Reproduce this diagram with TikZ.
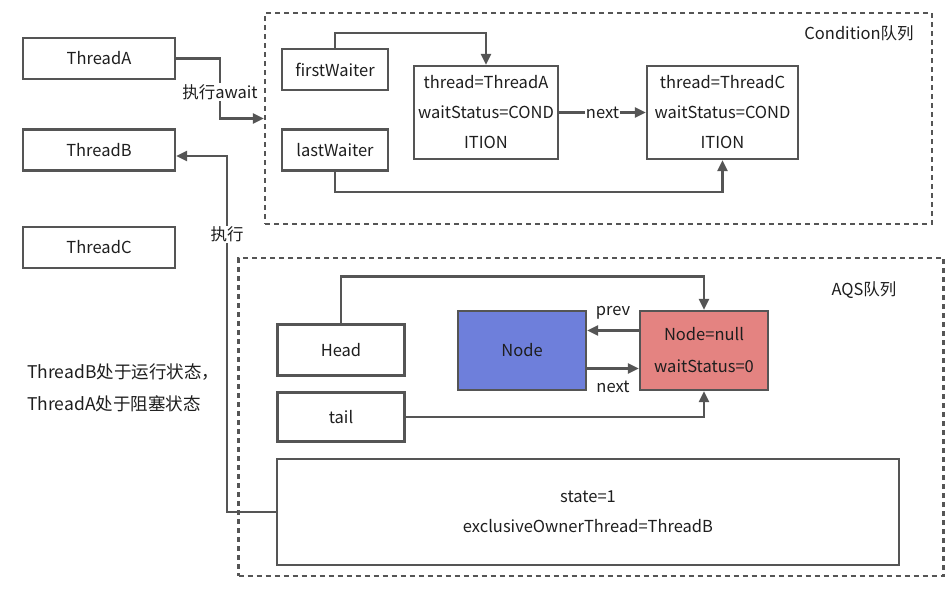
\documentclass[tikz,border=0pt]{standalone}
\usepackage{fontspec}
\setmainfont{Noto Sans CJK SC}
\usetikzlibrary{arrows.meta,calc}
\definecolor{ln}{RGB}{85,85,85}
\definecolor{bluef}{RGB}{110,127,219}
\definecolor{redf}{RGB}{228,131,129}
\definecolor{tx}{RGB}{30,30,30}
\begin{document}
\begin{tikzpicture}[x=1pt,y=-1pt,
 box/.style={draw=ln, line width=2.2pt, rectangle, inner sep=0pt, text=tx, font=\fontsize{16.5}{30}\selectfont, align=center},
 conn/.style={draw=ln, line width=2.2pt},
 arr/.style={conn, -{Triangle[length=11pt,width=10pt]}},
 dbox/.style={draw=ln, line width=2.2pt, dash pattern=on 5pt off 4pt, rectangle, inner sep=0pt},
 lbl/.style={font=\fontsize{16.5}{18}\selectfont, text=tx, inner sep=1pt, fill=white},
 txt/.style={font=\fontsize{16.5}{18}\selectfont, text=tx, inner sep=0pt}
]
\useasboundingbox (0,0) rectangle (947,592);
% left threads
\node[box, minimum width=152pt, minimum height=41pt] (ta) at (99,58.5) {ThreadA};
\node[box, minimum width=152pt, minimum height=41pt] (tb) at (99,150) {ThreadB};
\node[box, minimum width=152pt, minimum height=41pt] (tc) at (99,247.5) {ThreadC};
% condition queue
\node[dbox, minimum width=667pt, minimum height=211pt] (cond) at (598.5,118.5) {};
\node[txt] (condlbl) at (859,33) {Condition队列};
\node[box, minimum width=106pt, minimum height=41pt] (fw) at (335,69.5) {firstWaiter};
\node[box, minimum width=106pt, minimum height=41pt] (lw) at (335,150) {lastWaiter};
\node[box, minimum width=144pt, minimum height=93pt] (na) at (486,112.5) {thread=ThreadA\\waitStatus=COND\\ITION};
\node[box, minimum width=151pt, minimum height=93pt] (nc) at (722.5,112.5) {thread=ThreadC\\waitStatus=COND\\ITION};
\draw[arr] (fw.north) -- ++(0,-15) -| (na.north);
\draw[arr] (lw.south) -- ++(0,20) -| (nc.south);
\draw[arr] (na.east) -- node[lbl]{next} (nc.west);
% AQS queue
\node[dbox, minimum width=705pt, minimum height=318pt] (aqs) at (591,417) {};
\node[txt] (aqslbl) at (864,290) {AQS队列};
\node[box, minimum width=127pt, minimum height=51pt] (hd) at (341,350) {Head};
\node[box, minimum width=127pt, minimum height=49pt] (tl) at (341,417) {tail};
\node[box, minimum width=622pt, minimum height=106pt] (st) at (588,512) {state=1\\exclusiveOwnerThread=ThreadB};
\node[box, fill=bluef, minimum width=128pt, minimum height=79pt] (nd) at (522,350.5) {Node};
\node[box, fill=redf, minimum width=128pt, minimum height=79pt, font=\fontsize{16.5}{32}\selectfont] (rd) at (704,350.5) {Node=null\\waitStatus=0};
\draw[arr] (hd.north) -- ++(0,-47) -| (rd.north);
\draw[arr] (tl.east) -| (rd.south);
\draw[arr] ([yshift=20pt]rd.west) -- node[txt, above=10pt]{prev} ([yshift=20pt]nd.east);
\draw[arr] ([yshift=-18pt]nd.east) -- node[txt, below=11pt]{next} ([yshift=-18pt]rd.west);
% thread arrows
\coordinate (a1) at (220,58.5);
\coordinate (a2) at (220,118.5);
\draw[arr] (ta.east) -- (a1) -- node[lbl, pos=0.56]{执行await} (a2) -- (cond.west);
\coordinate (b1) at (227,512);
\coordinate (b2) at (227,156);
\draw[arr] (st.west) -- (b1) -- node[lbl, pos=0.78]{执行} (b2) -- (tb.east |- b2);
% note
\node[txt, anchor=west, align=left, font=\fontsize{17.5}{32}\selectfont] (note) at (27,388) {ThreadB处于运行状态，\\ThreadA处于阻塞状态};
\end{tikzpicture}
\end{document}
